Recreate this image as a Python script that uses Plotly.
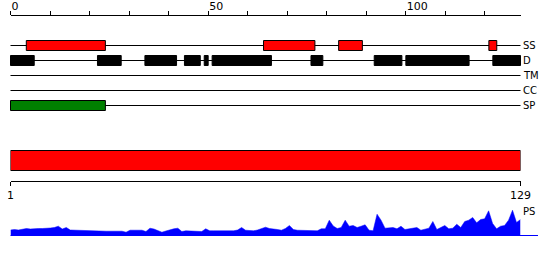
import plotly.graph_objects as go

# ---------------- data ----------------
seq_len = 129
ruler_tick_labels = [0, 50, 100]
ruler_minor_step = 10
residue_ticks = [1, 129]

track_names = ["SS", "D", "TM", "CC", "SP"]
ss_start = [4, 64, 83, 121]
ss_end = [24, 77, 89, 123]
d_start = [0, 22, 34, 44, 49, 51, 76, 92, 100, 122]
d_end = [6, 28, 42, 48, 50, 66, 79, 99, 116, 129]
tm_start, tm_end = [], []
cc_start, cc_end = [], []
sp_start = [0]
sp_end = [24]

domain_start = [1]
domain_end = [129]

ps_residues = list(range(1, 130))
ps_values = [
    5.5, 6, 5.5, 6.5, 7, 6.5, 7, 7, 7, 7,            # 1-10
    7.5, 8, 9.3, 6.5, 8, 5.5, 5.3, 5.3, 5.3, 5.3,    # 11-20
    5, 4.3, 4.3, 4.5, 4.3, 4.3, 4.3, 4.3, 4.3, 3.3,  # 21-30
    5.3, 5.3, 5.3, 5.3, 4, 7.3, 6.5, 5, 3.3, 4.5,    # 31-40
    6, 6.7, 7.3, 4, 4.7, 4.7, 4.3, 4.3, 4, 6.7,      # 41-50
    4.7, 4.7, 4.7, 4.7, 4.7, 4.7, 4.7, 5.5, 8, 5.3,  # 51-60
    5, 4.7, 5.5, 6.7, 8.3, 7, 6.7, 6, 5.3, 7,        # 61-70
    10, 6, 5.3, 5.3, 5.3, 5.3, 5, 4.7, 6.7, 6.7,     # 71-80
    15.3, 9.5, 7, 8, 15.3, 9.3, 10, 8, 9.3, 10.7,    # 81-90
    5.3, 4.7, 21.3, 15.3, 7.3, 8, 8, 6.7, 9.3, 6,    # 91-100
    6.7, 8, 8, 5.3, 6, 7.3, 14, 6, 8, 10,            # 101-110
    6.7, 7.3, 11.3, 8, 14, 15.3, 18, 12.7, 16, 16.7, # 111-120
    24.7, 12, 6.7, 9.3, 10, 15.3, 25.3, 13, 16,      # 121-129
]

# ---------------- layout constants ----------------
W, H = 550, 260
X0_PX, X1_PX = 10.5, 520.5
scale = (X1_PX - X0_PX) / seq_len
x_range = [-X0_PX / scale, (W - X0_PX) / scale]

RULER_Y = 14.5
track_y = {"SS": 45.5, "D": 60.5, "TM": 75.5, "CC": 90.5, "SP": 105.5}
BOX_HALF = 5
DOMAIN_TOP, DOMAIN_BOT = 150.5, 170.5
RES_AXIS_Y = 180.5
PS_BASE = 235.5
PS_LABEL_Y = 211
BASELINE_END_PX = 538
FONT = "DejaVu Sans"

fig = go.Figure()

# dummy traces so the ruler axes are built
fig.add_trace(go.Scatter(x=[0], y=[None], xaxis="x", yaxis="y", showlegend=False, hoverinfo="skip"))
fig.add_trace(go.Scatter(x=[0], y=[None], xaxis="x2", yaxis="y", showlegend=False, hoverinfo="skip"))

# PS area
fig.add_trace(go.Scatter(
    x=ps_residues, y=ps_values, xaxis="x3", yaxis="y2",
    mode="lines", line=dict(color="#0000FF", width=0.5),
    fill="tozeroy", fillcolor="#0000FF", showlegend=False, hoverinfo="skip",
))

shapes = []
# track base lines
for name in track_names:
    shapes.append(dict(type="line", xref="x", yref="y", x0=0, x1=seq_len,
                       y0=track_y[name], y1=track_y[name],
                       line=dict(color="black", width=1)))

def boxes(starts, ends, yc, fill):
    for s, e in zip(starts, ends):
        shapes.append(dict(type="rect", xref="x", yref="y", x0=s, x1=e,
                           y0=yc - BOX_HALF, y1=yc + BOX_HALF,
                           fillcolor=fill, line=dict(color="black", width=1)))

boxes(ss_start, ss_end, track_y["SS"], "#FF0000")
boxes(d_start, d_end, track_y["D"], "#000000")
boxes(tm_start, tm_end, track_y["TM"], "#000000")
boxes(cc_start, cc_end, track_y["CC"], "#000000")
boxes(sp_start, sp_end, track_y["SP"], "#008000")

# domain bar
for s, e in zip(domain_start, domain_end):
    shapes.append(dict(type="rect", xref="x3", yref="y", x0=s, x1=e,
                       y0=DOMAIN_TOP, y1=DOMAIN_BOT,
                       fillcolor="#FF0000", line=dict(color="black", width=1)))

# PS baseline
shapes.append(dict(type="line", xref="paper", yref="paper",
                   x0=X0_PX / W, x1=BASELINE_END_PX / W,
                   y0=1 - PS_BASE / H, y1=1 - PS_BASE / H,
                   line=dict(color="#0000FF", width=1)))

annotations = []
for name in track_names:
    annotations.append(dict(x=seq_len, y=track_y[name], xref="x", yref="y",
                            text=name, showarrow=False, xanchor="left", yanchor="middle",
                            borderpad=0, xshift=1,
                            font=dict(family=FONT, size=10, color="black")))
annotations.append(dict(x=seq_len, y=PS_LABEL_Y, xref="x", yref="y",
                        text="PS", showarrow=False, xanchor="left", yanchor="middle",
                        borderpad=0, xshift=1,
                        font=dict(family=FONT, size=10, color="black")))

fig.update_layout(
    template="none",
    width=W, height=H, autosize=False, margin=dict(l=0, r=0, t=0, b=0, pad=0),
    paper_bgcolor="white", plot_bgcolor="rgba(0,0,0,0)",
    shapes=shapes, annotations=annotations, showlegend=False,
    xaxis=dict(domain=[0, 1], range=x_range, visible=False, fixedrange=True, automargin=False),
    yaxis=dict(domain=[0, 1], range=[H, 0], visible=False, fixedrange=True, automargin=False),
    xaxis2=dict(
        domain=[X0_PX / W, X1_PX / W], range=[0, seq_len], anchor="free", automargin=False,
        position=1 - RULER_Y / H, side="top", showline=True, linecolor="black", linewidth=1,
        tickmode="array", tickvals=ruler_tick_labels, ticks="outside", ticklen=4,
        tickcolor="black", tickwidth=1, ticklabelposition="outside right",
        minor=dict(dtick=ruler_minor_step, tick0=0, ticks="outside", ticklen=4,
                   tickcolor="black", tickwidth=1, showgrid=False),
        showgrid=False, zeroline=False, tickfont=dict(family=FONT, size=11, color="black"),
    ),
    xaxis3=dict(
        domain=[X0_PX / W, X1_PX / W], range=[1, seq_len], anchor="free", automargin=False,
        position=1 - RES_AXIS_Y / H, side="bottom", showline=True, linecolor="black", linewidth=1,
        tickmode="array", tickvals=residue_ticks, ticks="outside", ticklen=4,
        tickcolor="black", tickwidth=1, showgrid=False, zeroline=False,
        tickfont=dict(family=FONT, size=11, color="black"),
    ),
    yaxis2=dict(domain=[1 - PS_BASE / H, 1 - (PS_BASE - 30) / H], range=[0, 30],
                anchor="x3", visible=False, fixedrange=True, automargin=False),
)

fig.write_html("out.html")
